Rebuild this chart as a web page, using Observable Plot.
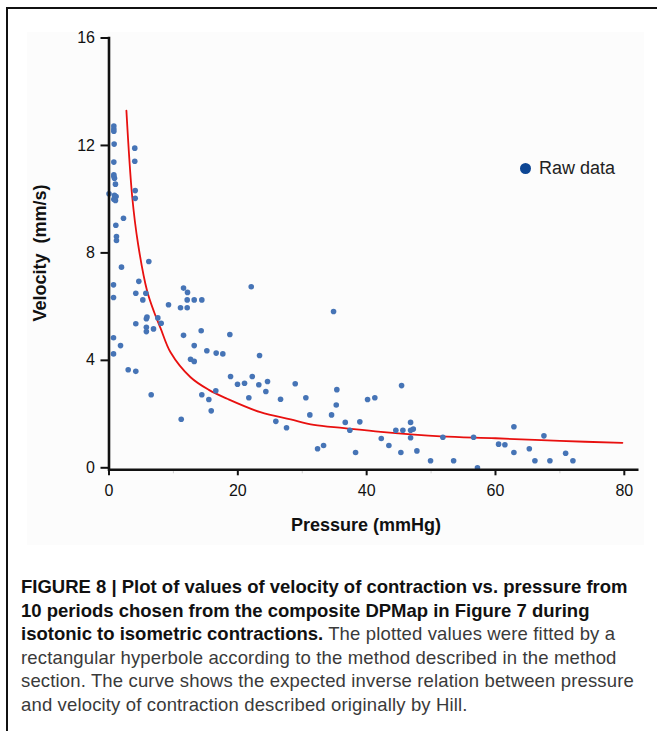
<!DOCTYPE html>
<html><head><meta charset="utf-8">
<script src="https://cdn.jsdelivr.net/npm/d3@7"></script>
<script src="https://cdn.jsdelivr.net/npm/@observablehq/plot@0.6"></script>
<style>
html,body{margin:0;padding:0;background:#fff;}
#page{position:relative;width:657px;height:731px;overflow:hidden;font-family:"Liberation Sans",Arial,sans-serif;}
#border{position:absolute;left:6px;top:7px;width:660px;height:740px;border-left:2px solid #111;border-top:2px solid #111;}
#panel{position:absolute;left:27px;top:32px;width:617px;height:513px;background:#fcfcfc;}
#chart{position:absolute;left:0;top:0;}
.axt{position:absolute;font-weight:bold;font-size:18px;color:#111;white-space:nowrap;}
#xt{left:366px;top:525px;transform:translate(-50%,-50%);}
#yt{left:40px;top:253px;transform:translate(-50%,-50%) rotate(-90deg);}
#legend{position:absolute;left:520px;top:157px;font-size:18px;color:#222;display:flex;align-items:center;height:22px;}
#legend .dot{display:inline-block;width:11px;height:11px;border-radius:50%;background:#0d4694;margin-right:8px;}
#caption{position:absolute;left:21px;top:575px;font-size:18.5px;line-height:23.6px;color:#3a3a3a;white-space:nowrap;letter-spacing:0.15px;}
#caption b{color:#111;letter-spacing:0;}
</style>
</head>
<body>
<div id="page">
  <div id="border"></div>
  <div id="panel"></div>
  <div id="chart"></div>
  <div class="axt" id="xt">Pressure (mmHg)</div>
  <div class="axt" id="yt">Velocity&nbsp;&nbsp;(mm/s)</div>
  <div id="legend"><span class="dot"></span><span>Raw data</span></div>
  <div id="caption">
    <b>FIGURE 8 | Plot of values of velocity of contraction vs. pressure from</b><br>
    <b>10 periods chosen from the composite DPMap in Figure 7 during</b><br>
    <b>isotonic to isometric contractions.</b> The plotted values were fitted by a<br>
    rectangular hyperbole according to the method described in the method<br>
    section. The curve shows the expected inverse relation between pressure<br>
    and velocity of contraction described originally by Hill.
  </div>
</div>
<script>
// Raw data: pressure (mmHg) and velocity (mm/s)
const pressure = [
  0.75,0.75,0.75,0.8,4.0,0.75,4.0,0.75,0.75,0.85,1.0,0.0,4.07,4.07,0.85,1.1,0.75,1.0,2.25,1.06,1.16,1.16,1.94,6.18,0.7,4.63,
  0.7,4.16,5.72,5.25,9.24,4.16,5.8,5.9,7.58,5.8,5.8,6.91,8.1,0.7,1.79,0.7,2.98,4.16,6.55,
  11.57,12.19,12.14,13.23,14.41,11.1,12.14,22.08,14.31,11.57,18.76,13.23,15.19,16.64,17.67,23.37,12.66,13.23,18.87,19.95,21.04,22.24,23.26,24.61,24.35,16.58,14.41,15.5,21.71,26.63,15.87,11.21,25.9,27.56,
  34.86,28.91,30.56,35.37,35.28,31.18,34.55,36.68,37.39,38.94,40.14,41.27,45.42,42.27,43.45,44.53,45.62,46.82,46.82,47.24,46.82,45.31,47.8,32.38,33.31,38.28,49.92,51.83,53.5,
  56.6,57.2,60.48,61.46,62.86,62.86,65.25,66.12,67.52,68.45,70.89,72.02
];
const velocity = [
  12.72,12.61,12.53,12.05,11.9,11.38,11.41,10.91,10.85,10.78,10.56,10.2,10.32,10.03,10.14,10.1,10.0,9.95,9.29,9.03,8.61,8.46,7.47,7.68,6.81,6.94,
  6.34,6.5,6.5,6.25,6.07,5.36,5.55,5.61,5.58,5.23,5.07,5.17,5.38,4.84,4.55,4.24,3.65,3.59,2.72,
  6.69,6.53,6.25,6.25,6.25,5.96,5.96,6.74,5.1,4.93,4.96,4.55,4.36,4.27,4.24,4.18,4.04,3.96,3.4,3.11,3.15,3.4,3.09,3.21,2.84,2.87,2.72,2.54,2.61,2.55,2.12,1.81,1.73,1.49,
  5.82,3.13,2.61,2.91,2.34,1.97,1.97,1.69,1.4,1.71,2.54,2.61,3.06,1.09,0.83,1.4,1.4,1.69,1.4,1.44,1.12,0.57,0.63,0.71,0.83,0.57,0.26,1.14,0.26,
  1.14,0.0,0.88,0.86,1.53,0.57,0.71,0.26,1.19,0.26,0.54,0.26
];
// Fitted rectangular hyperbola
const fitPressure = [2.7,3.6,4.5,5.9,7.0,8.0,9.55,12.66,15.5,18.35,23.5,28.2,31.8,36.5,42.2,51.5,60,70,79.7];
const fitVelocity = [13.3,10.1,8.35,6.6,5.8,5.2,4.3,3.37,2.9,2.57,2.07,1.8,1.6,1.48,1.34,1.17,1.1,1.0,0.93];
// Axis ticks
const xTicks = [0,20,40,60,80];
const xMinorTicks = [10,30,50,70];
const yTicks = [0,4,8,12,16];

const points = pressure.map((p,i)=>({p, v: velocity[i]}));
const fit = fitPressure.map((p,i)=>({p, v: fitVelocity[i]}));

const chart = Plot.plot({
  width: 657, height: 545,
  marginLeft: 108.5, marginRight: 20.3, marginTop: 37.5, marginBottom: 77.7,
  style: {background: "transparent", fontFamily: "Liberation Sans, Arial, sans-serif", fontSize: "16px", color: "#111"},
  x: {domain: [0, 82]},
  y: {domain: [0, 16]},
  marks: [
    Plot.line(fit, {x: "p", y: "v", stroke: "#e8100f", strokeWidth: 1.8, curve: "catmull-rom"}),
    Plot.dot(points, {x: "p", y: "v", r: 2.8, fill: "#4674b6", stroke: "none"}),
    Plot.axisX(xMinorTicks, {tickSize: 4, stroke: "#d0d0d0", tickFormat: () => "", label: null, dy: 2}),
    Plot.axisX(xTicks, {tickSize: 6, tickPadding: 9, strokeWidth: 2, label: null, dy: 2}),
    Plot.axisY(yTicks, {tickSize: 8, tickPadding: 6, strokeWidth: 2, label: null}),
    Plot.frame({anchor: "bottom", strokeWidth: 2.6, dy: 2}),
    Plot.frame({anchor: "left", strokeWidth: 2.6})
  ]
});
document.getElementById("chart").appendChild(chart);
</script>
</body></html>
